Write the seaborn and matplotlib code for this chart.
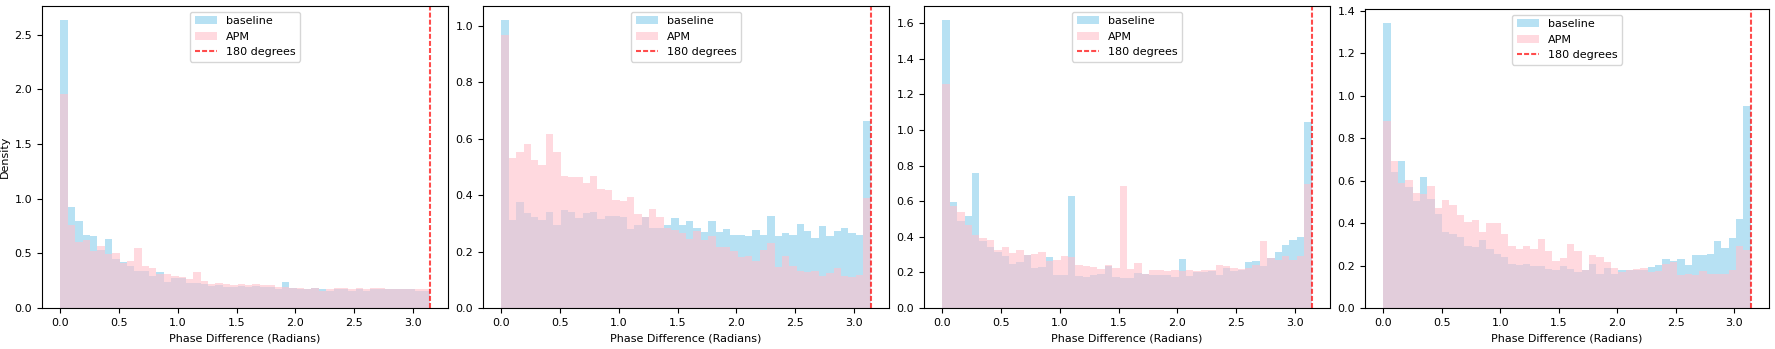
import numpy as np
import pandas as pd
import seaborn as sns
import matplotlib
matplotlib.use("Agg")
import matplotlib.pyplot as plt

# density per bin (50 bins between 0 and pi)
baseline_1 = [2.63, 0.92, 0.80, 0.67, 0.655, 0.53, 0.634, 0.45, 0.42, 0.38,
              0.335, 0.335, 0.29, 0.33, 0.24, 0.27, 0.27, 0.23, 0.23, 0.22,
              0.20, 0.21, 0.19, 0.19, 0.20, 0.19, 0.20, 0.19, 0.19, 0.17,
              0.24, 0.18, 0.17, 0.17, 0.18, 0.17, 0.16, 0.17, 0.17, 0.16,
              0.17, 0.16, 0.17, 0.17, 0.17, 0.17, 0.175, 0.175, 0.16, 0.16]
apm_1 = [1.96, 0.76, 0.60, 0.62, 0.52, 0.57, 0.49, 0.50, 0.41, 0.43,
         0.55, 0.38, 0.365, 0.31, 0.31, 0.29, 0.28, 0.265, 0.326, 0.25,
         0.22, 0.23, 0.22, 0.21, 0.22, 0.21, 0.22, 0.21, 0.21, 0.19,
         0.19, 0.185, 0.18, 0.175, 0.18, 0.16, 0.175, 0.18, 0.18, 0.17,
         0.18, 0.17, 0.185, 0.18, 0.175, 0.17, 0.17, 0.17, 0.17, 0.17]

baseline_2 = [1.019, 0.313, 0.374, 0.336, 0.322, 0.313, 0.339, 0.295, 0.346, 0.339,
              0.319, 0.335, 0.339, 0.314, 0.327, 0.325, 0.322, 0.281, 0.295, 0.322,
              0.285, 0.283, 0.295, 0.319, 0.294, 0.307, 0.282, 0.269, 0.308, 0.269,
              0.280, 0.259, 0.259, 0.256, 0.277, 0.259, 0.327, 0.256, 0.266, 0.257,
              0.299, 0.274, 0.247, 0.289, 0.254, 0.274, 0.282, 0.266, 0.260, 0.664]
apm_2 = [0.968, 0.531, 0.554, 0.581, 0.525, 0.505, 0.617, 0.551, 0.466, 0.465,
         0.463, 0.443, 0.469, 0.423, 0.417, 0.384, 0.379, 0.393, 0.332, 0.322,
         0.352, 0.322, 0.283, 0.277, 0.266, 0.244, 0.274, 0.240, 0.256, 0.216,
         0.216, 0.201, 0.181, 0.185, 0.165, 0.207, 0.230, 0.145, 0.185, 0.150,
         0.130, 0.126, 0.130, 0.115, 0.124, 0.142, 0.112, 0.110, 0.118, 0.391]

baseline_3 = [1.616, 0.597, 0.487, 0.519, 0.757, 0.375, 0.343, 0.315, 0.290, 0.247,
              0.260, 0.300, 0.225, 0.230, 0.286, 0.185, 0.185, 0.627, 0.182, 0.174,
              0.187, 0.193, 0.234, 0.174, 0.167, 0.167, 0.197, 0.189, 0.187, 0.187,
              0.187, 0.174, 0.277, 0.182, 0.200, 0.200, 0.206, 0.187, 0.225, 0.206,
              0.215, 0.258, 0.262, 0.234, 0.281, 0.316, 0.356, 0.380, 0.397, 1.047]
apm_3 = [1.260, 0.575, 0.537, 0.464, 0.408, 0.393, 0.380, 0.328, 0.343, 0.309,
         0.324, 0.300, 0.303, 0.313, 0.266, 0.268, 0.294, 0.286, 0.242, 0.238,
         0.230, 0.219, 0.242, 0.225, 0.687, 0.219, 0.253, 0.193, 0.215, 0.215,
         0.206, 0.212, 0.206, 0.212, 0.206, 0.212, 0.215, 0.240, 0.234, 0.225,
         0.219, 0.225, 0.240, 0.376, 0.280, 0.272, 0.294, 0.272, 0.294, 0.699]

baseline_4 = [1.342, 0.639, 0.695, 0.570, 0.502, 0.617, 0.516, 0.444, 0.356, 0.348,
              0.334, 0.290, 0.287, 0.319, 0.278, 0.256, 0.240, 0.207, 0.204, 0.209,
              0.196, 0.199, 0.184, 0.177, 0.196, 0.184, 0.168, 0.177, 0.209, 0.162,
              0.188, 0.162, 0.181, 0.181, 0.177, 0.181, 0.193, 0.204, 0.232, 0.220,
              0.231, 0.203, 0.248, 0.251, 0.254, 0.314, 0.283, 0.330, 0.421, 0.953]
apm_4 = [0.882, 0.692, 0.589, 0.604, 0.542, 0.535, 0.576, 0.472, 0.507, 0.484,
         0.440, 0.403, 0.416, 0.356, 0.400, 0.400, 0.348, 0.294, 0.278, 0.292,
         0.278, 0.327, 0.267, 0.223, 0.235, 0.300, 0.267, 0.181, 0.250, 0.242,
         0.217, 0.187, 0.168, 0.177, 0.184, 0.187, 0.168, 0.173, 0.209, 0.215,
         0.157, 0.160, 0.157, 0.173, 0.160, 0.162, 0.162, 0.177, 0.290, 0.272]

panels = [(baseline_1, apm_1), (baseline_2, apm_2),
          (baseline_3, apm_3), (baseline_4, apm_4)]

n_bins = 50
edges = np.linspace(0, np.pi, n_bins + 1)
centers = (edges[:-1] + edges[1:]) / 2

plt.rcParams["font.size"] = 8

W, H = 1775, 349
# axes boxes in pixels: left, right, top, bottom
boxes = [(42, 448, 6, 308), (483, 889, 6, 308),
         (924, 1330, 6, 308), (1365, 1769, 9, 308)]

fig = plt.figure(figsize=(W / 100, H / 100), dpi=100)

for i, ((base, apm), (l, r, t, b)) in enumerate(zip(panels, boxes)):
    ax = fig.add_axes([l / W, (H - b) / H, (r - l) / W, (b - t) / H])
    df = pd.DataFrame({"x": centers, "baseline": base, "APM": apm})
    sns.histplot(data=df, x="x", weights="baseline", bins=n_bins,
                 binrange=(0, np.pi), ax=ax, color="skyblue", alpha=0.6,
                 linewidth=0, label="baseline")
    sns.histplot(data=df, x="x", weights="APM", bins=n_bins,
                 binrange=(0, np.pi), ax=ax, color="pink", alpha=0.6,
                 linewidth=0, label="APM")
    ax.axvline(np.pi, color="red", linestyle="--", dashes=(2.4, 1.0),
               alpha=0.7, label="180 degrees")
    ax.set_xlabel("Phase Difference (Radians)")
    if i == 0:
        ax.set_ylabel("Density", labelpad=3)
    else:
        ax.set_ylabel("")

    handles, labels = ax.get_legend_handles_labels()
    order = [labels.index(k) for k in ["baseline", "APM", "180 degrees"]]
    ax.legend([handles[k] for k in order], [labels[k] for k in order],
              loc="upper center")

fig.savefig("out.png", dpi=100)
